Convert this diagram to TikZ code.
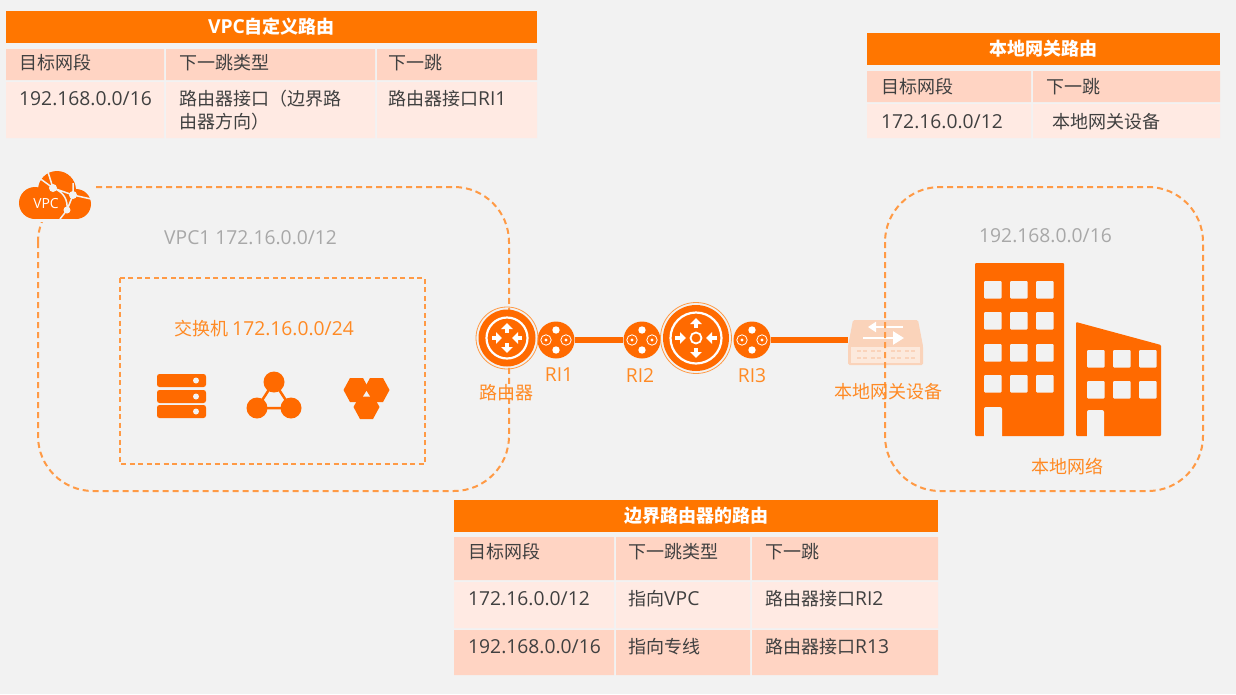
\documentclass[tikz,border=0pt]{standalone}
\usepackage{fontspec}
\setmainfont{Noto Sans CJK SC}
\newfontfamily\latfont[Scale=1.07]{Open Sans}
\newcommand{\lat}[1]{{\latfont #1}}
\usepackage{tikz}
\usetikzlibrary{arrows.meta,calc,positioning,shapes.geometric}

\definecolor{pagegray}{HTML}{F2F2F2}
\definecolor{aliorange}{HTML}{FF6A00}
\definecolor{titleorange}{HTML}{FF7600}
\definecolor{dashorange}{HTML}{FF9A45}
\definecolor{labelorange}{HTML}{FF8A24}
\definecolor{headpink}{HTML}{FFD4C3}
\definecolor{bodypink}{HTML}{FFEAE3}
\definecolor{gatepale}{HTML}{FAD3BA}
\definecolor{gatelight}{HTML}{FCE9DC}
\definecolor{celltext}{HTML}{404040}
\definecolor{graytext}{HTML}{A8A8A8}

\tikzset{
  tabletitle/.style={fill=titleorange,text=white,font=\fontsize{18}{18}\selectfont\bfseries,inner sep=0pt},
  cellhead/.style={fill=headpink},
  cellbody/.style={fill=bodypink},
  celltxt/.style={anchor=west,text=celltext,font=\fontsize{18}{18}\selectfont,inner sep=0pt},
  graylabel/.style={anchor=west,text=graytext,font=\fontsize{18}{18}\selectfont,inner sep=0pt},
  orangelabel/.style={text=labelorange,font=\fontsize{18}{18}\selectfont,inner sep=0pt},
  dashbox/.style={draw=dashorange,line width=2pt,dash pattern=on 6pt off 4pt},
  routerdisc/.style={circle,fill=aliorange,inner sep=0pt},
  portdisc/.style={circle,fill=aliorange,inner sep=0pt,minimum size=37pt},
  link/.style={draw=aliorange,line width=5.5pt},
  blockarrow/.style={-{Triangle[length=6pt,width=11.5pt]},draw=white,line width=4.5pt},
}

\begin{document}
\begin{tikzpicture}[x=1pt,y=-1pt]
  \useasboundingbox[fill=pagegray] (0,0) rectangle (1236,694);

  % VPC route table
  \node[tabletitle,minimum width=531pt,minimum height=32pt] (vpctitle) at (271.5,27) {\lat{VPC}自定义路由};
  \fill[cellhead] (6,49) rectangle (164,80) (166,49) rectangle (375,80) (377,49) rectangle (537,80);
  \fill[cellbody] (6,82) rectangle (164,138) (166,82) rectangle (375,138) (377,82) rectangle (537,138);
  \node[celltxt] (vpchead1) at (19,63) {目标网段};
  \node[celltxt] (vpchead2) at (179,63) {下一跳类型};
  \node[celltxt] (vpchead3) at (388,63) {下一跳};
  \node[celltxt] (vpcdest) at (19,99) {\lat{192.168.0.0/16}};
  \node[celltxt] (vpctype) at (179,99) {路由器接口（边界路};
  \node[celltxt] (vpctype2) at (179,122) {由器方向）};
  \node[celltxt] (vpchop) at (388,99) {路由器接口\lat{RI1}};

  % gateway route table
  \node[tabletitle,minimum width=353pt,minimum height=32pt] (gwtitle) at (1043.5,49) {本地网关路由};
  \fill[cellhead] (867,71) rectangle (1031,102) (1033,71) rectangle (1220,102);
  \fill[cellbody] (867,104) rectangle (1031,138) (1033,104) rectangle (1220,138);
  \node[celltxt] (gwhead1) at (881,87) {目标网段};
  \node[celltxt] (gwhead2) at (1046,87) {下一跳};
  \node[celltxt] (gwdest) at (881,122) {\lat{172.16.0.0/12}};
  \node[celltxt] (gwhop) at (1052,122) {本地网关设备};

  % border router route table
  \node[tabletitle,minimum width=484pt,minimum height=32pt] (brtitle) at (696,516) {边界路由器的路由};
  \fill[cellhead] (454,537) rectangle (614,580) (616,537) rectangle (750,580) (752,537) rectangle (938,580);
  \fill[cellbody] (454,582) rectangle (614,628) (616,582) rectangle (750,628) (752,582) rectangle (938,628);
  \fill[cellhead] (454,630) rectangle (614,675) (616,630) rectangle (750,675) (752,630) rectangle (938,675);
  \node[celltxt] (brhead1) at (468,552) {目标网段};
  \node[celltxt] (brhead2) at (628,552) {下一跳类型};
  \node[celltxt] (brhead3) at (765,552) {下一跳};
  \node[celltxt] (brdest1) at (468,599) {\lat{172.16.0.0/12}};
  \node[celltxt] (brtype1) at (628,599) {指向\lat{VPC}};
  \node[celltxt] (brhop1) at (765,599) {路由器接口\lat{RI2}};
  \node[celltxt] (brdest2) at (468,647) {\lat{192.168.0.0/16}};
  \node[celltxt] (brtype2) at (628,647) {指向专线};
  \node[celltxt] (brhop2) at (765,647) {路由器接口\lat{R13}};

  % dashed areas
  \draw[dashbox,rounded corners=55pt] (38,187) rectangle (509,491);
  \draw[dashbox,line width=1.6pt,dash pattern=on 5pt off 3.5pt] (120,278) rectangle (425,464);
  \node[graylabel] (vpclabel) at (164,238) {\lat{VPC1 172.16.0.0/12}};
  \node[graylabel] (netlabel) at (979,236) {\lat{192.168.0.0/16}};
  \node[orangelabel,anchor=west] (swlabel) at (174,329) {交换机 \lat{172.16.0.0/24}};
  \node[orangelabel] (locallabel) at (1067,467) {本地网络};

  % cloud
  \fill[pagegray] (15,165) rectangle (95,222);
  \fill[aliorange] (35,203) circle (16);
  \fill[aliorange] (57,190) circle (19);
  \fill[aliorange] (76,204) circle (15);
  \fill[aliorange] (35,200) rectangle (76,219);
  \draw[pagegray,line width=1.5pt] (38,177) -- (53,188) -- (73,195) -- (91,199) (48,172) -- (53,188)
    (73,183) -- (73,195) -- (67,210) -- (60,219) (53,188) .. controls (64,192) and (68,200) .. (67,210);
  \fill[pagegray] (53,188) circle (4) (73,195) circle (4) (67,210) circle (3.5);
  \node[text=white,font=\fontsize{13}{13}\selectfont,inner sep=0pt] (vpcicon) at (46,204) {\lat{VPC}};

  % servers
  \foreach \y in {374,390,405} {
    \fill[aliorange,rounded corners=2.5pt] (157,\y) rectangle (206,\y+13);
    \fill[pagegray] (196,\y+6.5) circle (3);
  }

  % triangle of circles
  \draw[aliorange,line width=2.5pt] (274,382) -- (257,408) -- (291,408) -- cycle;
  \fill[aliorange] (274,382) circle (10.5) (257,408) circle (10.5) (291,408) circle (10.5);

  % three hexagons
  \foreach \cx/\cy in {356.5/390,376.5/390,366.5/407} {
    \fill[aliorange] (\cx-13,\cy) -- (\cx-6.5,\cy-12) -- (\cx+6.5,\cy-12) -- (\cx+13,\cy)
      -- (\cx+6.5,\cy+12) -- (\cx-6.5,\cy+12) -- cycle;
  }
  \fill[pagegray] (366.5,391) -- (370,396.5) -- (363,396.5) -- cycle;

  % connectors
  \node[routerdisc,minimum size=57pt] (router1) at (507,338) {};
  \node[routerdisc,minimum size=66pt] (router2) at (696,338) {};
  \node[portdisc] (ri1) at (556,340) {};
  \node[portdisc] (ri2) at (642,340) {};
  \node[portdisc] (ri3) at (752,340) {};
  \node[minimum width=75pt,minimum height=45pt,inner sep=0pt] (gateway) at (885.5,342.5) {};
  \draw[link] (ri1) -- (ri2);
  \draw[link] (ri3) -- (ri3 -| gateway.west);

  % router faces
  \foreach \r/\ro/\ri in {router1/31/20.5,router2/35.5/25.5} {
    \draw[dashorange,line width=0.8pt] (\r) circle (\ro);
    \draw[white,line width=2.2pt] (\r) circle (\ri);
  }
  \foreach \a in {90,270} {
    \draw[blockarrow] ($(router1)+(\a:5)$) -- ($(router1)+(\a:15)$);
    \draw[blockarrow] ($(router2)+(\a:10)$) -- ($(router2)+(\a:20)$);
  }
  \foreach \a in {0,180} {
    \draw[blockarrow] ($(router1)+(\a:15)$) -- ($(router1)+(\a:5)$);
    \draw[blockarrow] ($(router2)+(\a:21)$) -- ($(router2)+(\a:10)$);
  }
  \draw[white,line width=1.8pt] (router2) circle (5.5);

  % port faces
  \foreach \p in {ri1,ri2,ri3} {
    \draw[white,line width=0.8pt] ($(\p)+(-10,0)$) circle (5.2) ($(\p)+(10,0)$) circle (5.2);
    \fill[white] ($(\p)+(-10,0)$) circle (1.6) ($(\p)+(10,0)$) circle (1.6)
      ($(\p)+(0,-10)$) circle (3.7) ($(\p)+(0,10)$) circle (3.7);
  }

  % gateway box
  \fill[gatepale,rounded corners=1.5pt] (853,320) -- (918,320) -- (923,346) -- (923,365) -- (848,365) -- (848,346) -- cycle;
  \fill[gatelight] (851,347) rectangle (920,363);
  \draw[white,line width=2.5pt,-{Triangle[length=8pt,width=10pt]}] (903,327) -- (868,327);
  \draw[white,line width=2.5pt,-{Triangle[length=11pt,width=13pt]}] (863,338) -- (904,338);
  \foreach \x in {862,876,896,910} {
    \draw[gatepale,line width=1.4pt,dash pattern=on 4pt off 2pt] (\x-5,351) -- (\x+5,351);
    \draw[gatepale,line width=1.4pt,dash pattern=on 4pt off 2pt] (\x-5,358) -- (\x+5,358);
  }
  \draw[dashbox,rounded corners=55pt] (885,187) rectangle (1203,491);

  % labels on the chain
  \node[orangelabel] (routerlabel) at (506,393) {路由器};
  \node[orangelabel] (ri1label) at (559,375) {\lat{RI1}};
  \node[orangelabel] (ri2label) at (640,376) {\lat{RI2}};
  \node[orangelabel] (ri3label) at (752,376) {\lat{RI3}};
  \node[orangelabel] (gwlabel) at (888,392) {本地网关设备};

  % buildings
  \fill[aliorange,rounded corners=1pt] (975,263) rectangle (1064,436);
  \fill[aliorange,rounded corners=1pt] (1076,322) -- (1161,345) -- (1161,436) -- (1076,436) -- cycle;
  \foreach \x in {984,1010,1036} \foreach \y in {281,312,344,375}
    \fill[pagegray,rounded corners=1pt] (\x,\y) rectangle (\x+17.5,\y+17.5);
  \foreach \x in {1087,1113,1139} \foreach \y in {350,381}
    \fill[pagegray,rounded corners=1pt] (\x,\y) rectangle (\x+17.5,\y+17.5);
  \fill[pagegray,rounded corners=2pt] (984,407) -- (1002,407) -- (1002,440) -- (984,440) -- cycle;
  \fill[pagegray,rounded corners=2pt] (1087,410) -- (1104,410) -- (1104,440) -- (1087,440) -- cycle;
\end{tikzpicture}
\end{document}
